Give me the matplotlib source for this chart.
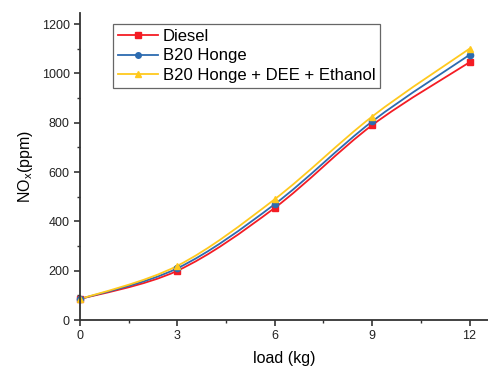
import numpy as np
import matplotlib
matplotlib.use("Agg")
from matplotlib import pyplot as plt
from matplotlib.path import Path
from matplotlib.patches import PathPatch
from matplotlib.lines import Line2D

plt.rcParams['font.family'] = ['Liberation Sans', 'DejaVu Sans']

load = [0, 3, 6, 9, 12]
diesel = [85, 200, 455, 790, 1045]
b20 = [85, 210, 470, 805, 1075]
b20_dee = [85, 220, 490, 825, 1100]

labels = ['Diesel', 'B20 Honge', 'B20 Honge + DEE + Ethanol']
series = [diesel, b20, b20_dee]
colors = ['#f41c24', '#2c6bb0', '#ffc91e']
markers = ['s', 'o', '^']


def smooth_path(x, y):
    # Catmull-Rom through the data points, drawn as cubic Bezier segments
    p = np.column_stack([x, y]).astype(float)
    ext = np.vstack([p[0], p, p[-1]])
    verts = [p[0]]
    codes = [Path.MOVETO]
    for i in range(len(p) - 1):
        p0, p1, p2, p3 = ext[i], ext[i + 1], ext[i + 2], ext[i + 3]
        verts += [p1 + (p2 - p0) / 6, p2 - (p3 - p1) / 6, p2]
        codes += [Path.CURVE4] * 3
    return Path(verts, codes)


fig = plt.figure(figsize=(4.89, 3.70), dpi=100)
ax = fig.add_axes([0.1636, 0.135, 0.8364, 0.83])

handles = []
for y, lab, c, m in zip(series, labels, colors, markers):
    ax.add_patch(PathPatch(smooth_path(load, y), fill=False, edgecolor=c,
                           lw=1.3, clip_on=False))
    ax.plot(load, y, ls='none', color=c, marker=m, markersize=4.5,
            clip_on=False)
    handles.append(Line2D([], [], color=c, marker=m, markersize=4, lw=1.3))

ax.set_xlim(0, 12.6)
ax.set_ylim(0, 1245)
ax.set_xticks([0, 3, 6, 9, 12])
ax.set_xticks(np.arange(1.5, 12.6, 3), minor=True)
ax.set_yticks(range(0, 1201, 200))
ax.set_yticks(range(100, 1201, 200), minor=True)
ax.tick_params(which='both', direction='out', labelsize=9, colors='#333333',
               labelcolor='#222222')
ax.tick_params(which='major', length=4, width=1.2)
ax.tick_params(which='minor', length=2.5, width=1)

ax.spines['top'].set_visible(False)
ax.spines['right'].set_visible(False)
for s in ['left', 'bottom']:
    ax.spines[s].set_linewidth(1.3)
    ax.spines[s].set_color('#333333')

ax.set_xlabel('load (kg)', fontsize=11.5, labelpad=6)
ax.set_ylabel('NO$_\\mathregular{x}$(ppm)', fontsize=11.5, labelpad=5)

leg = ax.legend(handles, labels, loc='upper left',
                bbox_to_anchor=(0.08, 0.965), fontsize=12,
                fancybox=False, edgecolor='#666666', framealpha=1,
                handlelength=2.4, handletextpad=0.3, labelspacing=0.28,
                borderpad=0.3, borderaxespad=0)
leg.get_frame().set_linewidth(0.9)

fig.savefig('out.png', dpi=100)
